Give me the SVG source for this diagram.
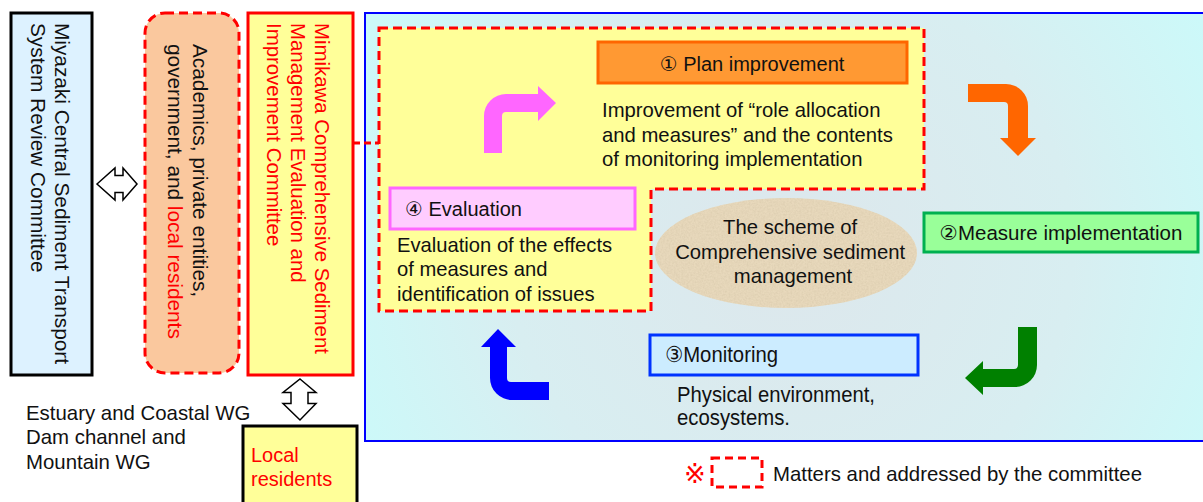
<svg xmlns="http://www.w3.org/2000/svg" width="1203" height="502" viewBox="0 0 1203 502">
  <style>
    text { font-family: "Liberation Sans", Arial, "DejaVu Sans", "Noto Sans CJK JP", sans-serif; fill: #111; }
    .t20 { font-size: 20px; }
    .side { font-size: 20.8px; }
    .red { fill: #FF0000; }
    .narrow { font-size: 22px; }
    .box { stroke-width: 3; }
  </style>
  <defs>
    <radialGradient id="panelBg" cx="790" cy="250" r="470" gradientUnits="userSpaceOnUse">
      <stop offset="0" stop-color="#DDE7EC"/>
      <stop offset="0.6" stop-color="#D8EEF1"/>
      <stop offset="1" stop-color="#CCF9F9"/>
    </radialGradient>
    <filter id="sand" x="0" y="0" width="100%" height="100%">
      <feTurbulence type="fractalNoise" baseFrequency="0.55" numOctaves="3" seed="4" result="n"/>
      <feColorMatrix in="n" type="matrix" values="0 0 0 0 0.62  0 0 0 0 0.52  0 0 0 0 0.36  0 0 0 0.7 -0.2" result="c"/>
      <feComposite in="c" in2="SourceGraphic" operator="in" result="t"/>
      <feMerge><feMergeNode in="SourceGraphic"/><feMergeNode in="t"/></feMerge>
    </filter>
  </defs>

  <!-- cycle panel background -->
  <g id="cycle-panel">
    <rect x="365" y="13" width="850" height="428" fill="url(#panelBg)" stroke="#0000FF" stroke-width="2"/>
  </g>

  <!-- committee-addressed area -->
  <g id="committee-area">
    <path d="M379,28 L924,28 L924,189 L651,189 L651,311 L379,311 Z" fill="#FFFF99" stroke="#FF0000" stroke-width="3" stroke-dasharray="9,5"/>
  </g>

  <!-- left column -->
  <g id="miyazaki-committee">
    <rect x="11" y="13" width="81" height="362" fill="#DDF2FF" stroke="#000" class="box"/>
    <text class="side" transform="translate(55,23) rotate(90)">
      <tspan x="0" y="0">Miyazaki Central Sediment Transport</tspan>
      <tspan x="0" y="24">System Review Committee</tspan>
    </text>
  </g>

  <g id="stakeholders">
    <rect x="145" y="13" width="94" height="360" rx="20" ry="20" fill="#FAC89E" stroke="#FF0000" stroke-width="3" stroke-dasharray="9,5"/>
    <text class="side" transform="translate(193,44) rotate(90)">
      <tspan x="0" y="0">Academics, private entities,</tspan>
      <tspan x="0" y="25">government, and <tspan class="red">local residents</tspan></tspan>
    </text>
  </g>

  <g id="mimikawa-committee">
    <rect x="248" y="13" width="105" height="362" fill="#FFFF99" stroke="#FF0000" class="box"/>
    <text class="red" style="font-size:20.4px" transform="translate(315,23) rotate(90)">
      <tspan x="0" y="0">Mimikawa Comprehensive Sediment</tspan>
      <tspan x="0" y="24">Management Evaluation and</tspan>
      <tspan x="0" y="48">Improvement Committee</tspan>
    </text>
  </g>

  <g id="working-groups">
    <text style="font-size:20.4px">
      <tspan x="26" y="420">Estuary and Coastal WG</tspan>
      <tspan x="26" y="444">Dam channel and</tspan>
      <tspan x="26" y="469">Mountain WG</tspan>
    </text>
  </g>

  <g id="local-residents">
    <rect x="243" y="426" width="114" height="90" fill="#FFFF99" stroke="#000" class="box"/>
    <text class="t20 red">
      <tspan x="251" y="462">Local</tspan>
      <tspan x="251" y="486">residents</tspan>
    </text>
  </g>

  <!-- PDCA steps -->
  <g id="plan-improvement">
    <rect x="598" y="42" width="309" height="41" fill="#FF9933" stroke="#FF6600" class="box"/>
    <text class="t20" x="752" y="71" text-anchor="middle">① Plan improvement</text>
    <text style="font-size:20.3px">
      <tspan x="602" y="117">Improvement of “role allocation</tspan>
      <tspan x="602" y="142">and measures” and the contents</tspan>
      <tspan x="602" y="166">of monitoring implementation</tspan>
    </text>
  </g>

  <g id="measure-implementation">
    <rect x="924" y="213" width="274" height="39" fill="#99FF99" stroke="#00B050" class="box"/>
    <text style="font-size:20.5px" x="1061" y="240" text-anchor="middle">②Measure implementation</text>
  </g>

  <g id="monitoring">
    <rect x="650" y="335" width="268" height="40" fill="#CCECFF" stroke="#0033FF" class="box"/>
    <text class="narrow" x="665" y="362" textLength="113" lengthAdjust="spacingAndGlyphs">③Monitoring</text>
    <text class="narrow" x="677" y="402" textLength="198" lengthAdjust="spacingAndGlyphs">Physical environment,</text>
    <text class="narrow" x="677" y="425" textLength="113" lengthAdjust="spacingAndGlyphs">ecosystems.</text>
  </g>

  <g id="evaluation">
    <rect x="390" y="188" width="245" height="41" fill="#FFCCFF" stroke="#FF66FF" class="box"/>
    <text class="t20" x="405" y="216">④ Evaluation</text>
    <text style="font-size:20.2px">
      <tspan x="397" y="252">Evaluation of the effects</tspan>
      <tspan x="397" y="276">of measures and</tspan>
      <tspan x="397" y="301">identification of issues</tspan>
    </text>
  </g>

  <g id="scheme">
    <ellipse cx="786" cy="253" rx="131" ry="55" fill="#E8D9BC" filter="url(#sand)"/>
    <text style="font-size:20.3px" text-anchor="middle">
      <tspan x="793" y="234">The scheme of</tspan>
      <tspan x="793" y="259">Comprehensive sediment</tspan>
      <tspan x="793" y="283">management</tspan>
    </text>
  </g>

  <!-- connectors -->
  <g id="connectors">
    <line x1="353" y1="143" x2="379" y2="143" stroke="#FF0000" stroke-width="3" stroke-dasharray="7,4"/>
    <path d="M97,184 L115,168 L115,175.5 L123,175.5 L123,168 L137,184 L123,200 L123,192.5 L115,192.5 L115,200 Z" fill="#fff" stroke="#000" stroke-width="1.5"/>
    <path d="M300,379 L316,392.5 L308,392.5 L308,403.5 L316,403.5 L300,420 L283,403.5 L291,403.5 L291,392.5 L283,392.5 Z" fill="#fff" stroke="#000" stroke-width="1.5"/>
    <!-- evaluation to plan -->
    <path d="M484,153 L484,116 A22,22 0 0 1 506,94 L538,94 L538,86 L556,103 L538,121 L538,112 L506,112 Q502,112 502,116 L502,153 Z" fill="#FF66FF"/>
    <!-- plan to implementation -->
    <path d="M968,84 L1006,84 A22,22 0 0 1 1028,106 L1028,138 L1036,138 L1018,156 L1000,138 L1008,138 L1008,106 Q1008,102 1004,102 L968,102 Z" fill="#FF6600"/>
    <!-- implementation to monitoring -->
    <path d="M1018,327 L1037,327 L1037,365 A22,22 0 0 1 1015,387 L983,387 L983,395 L965,378 L983,361 L983,369 L1014,369 Q1018,369 1018,365 Z" fill="#008000"/>
    <!-- monitoring to evaluation -->
    <path d="M490,347 L481,347 L498,329 L516,347 L507,347 L507,378 Q507,382 511,382 L549,382 L549,400 L512,400 A22,22 0 0 1 490,378 Z" fill="#0000FF"/>
  </g>

  <!-- legend -->
  <g id="legend">
    <text x="684" y="483" class="red" style="font-size:26px">※</text>
    <rect x="712" y="458" width="50" height="29" fill="none" stroke="#FF0000" stroke-width="3" stroke-dasharray="8,5"/>
    <text x="773" y="481" style="font-size:21px" textLength="369" lengthAdjust="spacingAndGlyphs">Matters and addressed by the committee</text>
  </g>
</svg>
